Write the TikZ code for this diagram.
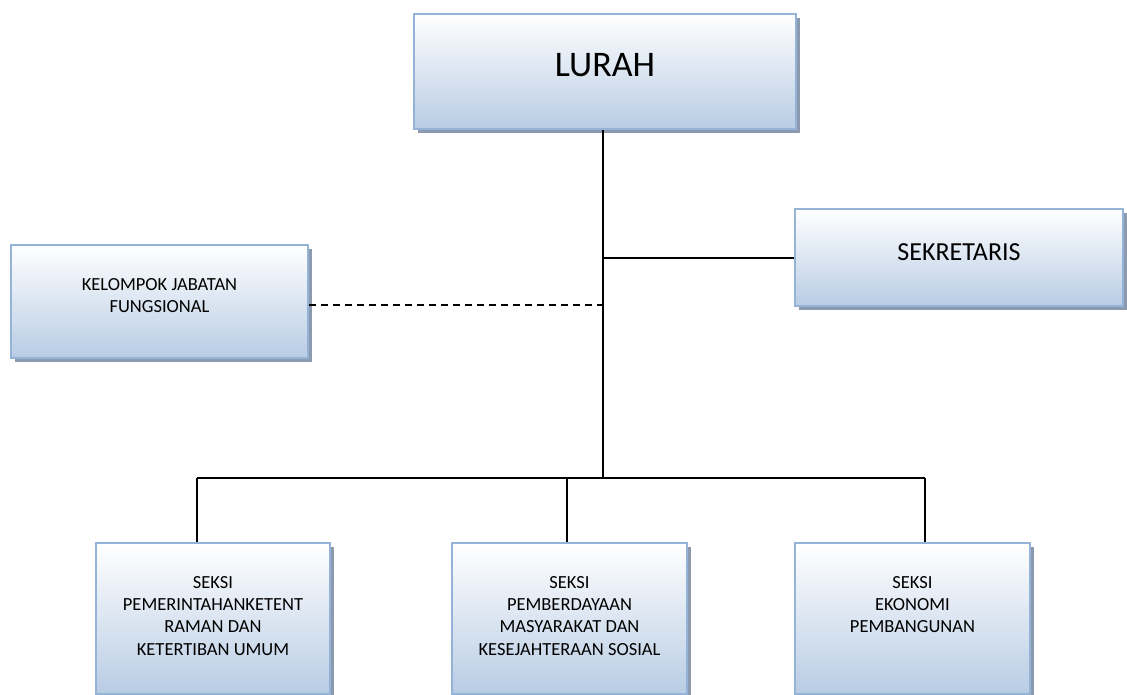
\documentclass[tikz,border=0pt]{standalone}
\usepackage{fontspec}
\setmainfont{Carlito}
\usetikzlibrary{shadows}
\definecolor{bbord}{RGB}{149,179,215}
\definecolor{bbot}{RGB}{184,204,228}
\definecolor{shad}{RGB}{140,154,176}
\newcommand\orgtop[1]{\rule{0pt}{#1pt}}
\newcommand\orgbot[1]{\rule[-#1pt]{0pt}{#1pt}}
\tikzset{
  orgbox/.style={draw=bbord, line width=2pt, top color=white, bottom color=bbot,
    align=center, inner sep=0pt, anchor=north west,
    drop shadow={shadow xshift=4pt, shadow yshift=-4pt, fill=shad, opacity=1}},
  small/.style={font=\fontsize{18.5}{22.4}\selectfont},
  conn/.style={black, line width=1.7pt},
  dconn/.style={black, line width=1.7pt, dash pattern=on 7pt off 5pt}
}
\begin{document}
\begin{tikzpicture}[x=1pt,y=-1pt]
\useasboundingbox (0,0) rectangle (1127,695);
\node[orgbox, minimum width=382pt, font=\fontsize{36}{40}\selectfont] (lurah) at (413,13) {\orgtop{62.6}LURAH\orgbot{52.4}};
\node[orgbox, minimum width=297pt, small] (kjf) at (10,244) {\orgtop{45}KELOMPOK JABATAN\\FUNGSIONAL\orgbot{45.5}};
\node[orgbox, minimum width=328pt, font=\fontsize{26}{30}\selectfont] (sek) at (794,208) {\orgtop{52}SEKRETARIS\orgbot{45}};
\node[orgbox, minimum width=234pt, small] (s1) at (95,542) {\orgtop{45}SEKSI\\PEMERINTAHANKETENT\\RAMAN DAN\\KETERTIBAN UMUM\orgbot{38.8}};
\node[orgbox, minimum width=235pt, small] (s2) at (451,542) {\orgtop{45}SEKSI\\PEMBERDAYAAN\\MASYARAKAT DAN\\KESEJAHTERAAN SOSIAL\orgbot{38.8}};
\node[orgbox, minimum width=235pt, small] (s3) at (794,542) {\orgtop{45}SEKSI\\EKONOMI\\PEMBANGUNAN\orgbot{61.2}};
\coordinate (top) at (603,128);
\coordinate (bus) at (603,478);
\coordinate (jsek) at (603,258);
\coordinate (jkjf) at (603,305);
\draw[conn] (lurah.south -| top) -- (bus);
\draw[conn] (jsek) -- (jsek -| sek.west);
\draw[dconn] (kjf.east |- jkjf) -- (jkjf);
\coordinate (d1) at (197,478);
\coordinate (d2) at (567,478);
\coordinate (d3) at (925,478);
\draw[conn] (d1) -- (d1 |- s1.north);
\draw[conn] (d2) -- (d2 |- s2.north);
\draw[conn] (d3) -- (d3 |- s3.north);
\draw[conn] (d1) -- (d3);
\end{tikzpicture}
\end{document}
